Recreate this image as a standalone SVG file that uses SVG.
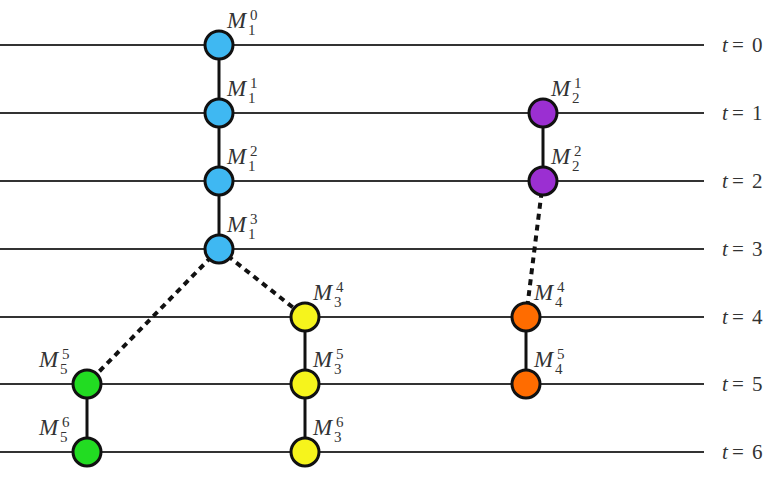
<svg xmlns="http://www.w3.org/2000/svg" width="778" height="477" viewBox="0 0 778 477">
<style>
.tl{stroke:#333;stroke-width:2}
.sol{stroke:#111;stroke-width:3}
.dash{stroke:#111;stroke-width:4;stroke-dasharray:6 5}
.n{stroke:#111;stroke-width:3}
.c{fill:#3fb8f2}.p{fill:#9b2fd2}.y{fill:#f6f41c}.g{fill:#22dc22}.o{fill:#ff6c00}
text{font-family:"Liberation Serif","DejaVu Serif",serif;fill:#333}
.m{font-size:23px;font-style:italic}
.s{font-size:15px}
.t{font-size:21px}
.i{font-style:italic}
</style>
<rect width="778" height="477" fill="#fff"/>
<g id="timelines">
<line class="tl" x1="0" y1="45" x2="704" y2="45"/>
<line class="tl" x1="0" y1="113" x2="704" y2="113"/>
<line class="tl" x1="0" y1="181" x2="704" y2="181"/>
<line class="tl" x1="0" y1="249" x2="704" y2="249"/>
<line class="tl" x1="0" y1="317" x2="704" y2="317"/>
<line class="tl" x1="0" y1="384" x2="704" y2="384"/>
<line class="tl" x1="0" y1="452" x2="704" y2="452"/>
<text class="t" y="52"><tspan class="i" x="722">t</tspan><tspan x="732">=</tspan><tspan x="752">0</tspan></text>
<text class="t" y="120"><tspan class="i" x="722">t</tspan><tspan x="732">=</tspan><tspan x="752">1</tspan></text>
<text class="t" y="188"><tspan class="i" x="722">t</tspan><tspan x="732">=</tspan><tspan x="752">2</tspan></text>
<text class="t" y="256"><tspan class="i" x="722">t</tspan><tspan x="732">=</tspan><tspan x="752">3</tspan></text>
<text class="t" y="324"><tspan class="i" x="722">t</tspan><tspan x="732">=</tspan><tspan x="752">4</tspan></text>
<text class="t" y="391"><tspan class="i" x="722">t</tspan><tspan x="732">=</tspan><tspan x="752">5</tspan></text>
<text class="t" y="459"><tspan class="i" x="722">t</tspan><tspan x="732">=</tspan><tspan x="752">6</tspan></text>
</g>
<g id="connectors">
<line class="sol" x1="219" y1="45" x2="219" y2="249"/>
<line class="sol" x1="543" y1="113" x2="543" y2="181"/>
<line class="sol" x1="305" y1="317" x2="305" y2="452"/>
<line class="sol" x1="87" y1="384" x2="87" y2="452"/>
<line class="sol" x1="526" y1="317" x2="526" y2="384"/>
<line class="dash" x1="219" y1="249" x2="87" y2="384"/>
<line class="dash" x1="219" y1="249" x2="305" y2="317"/>
<line class="dash" x1="543" y1="181" x2="526" y2="317"/>
</g>
<g id="M1_0"><circle class="n c" cx="219" cy="45" r="14"/><text class="m" x="227" y="28">M</text><text class="s" x="250" y="20">0</text><text class="s" x="248" y="35">1</text></g>
<g id="M1_1"><circle class="n c" cx="219" cy="113" r="14"/><text class="m" x="227" y="96">M</text><text class="s" x="250" y="88">1</text><text class="s" x="248" y="103">1</text></g>
<g id="M1_2"><circle class="n c" cx="219" cy="181" r="14"/><text class="m" x="227" y="164">M</text><text class="s" x="250" y="156">2</text><text class="s" x="248" y="171">1</text></g>
<g id="M1_3"><circle class="n c" cx="219" cy="249" r="14"/><text class="m" x="227" y="232">M</text><text class="s" x="250" y="224">3</text><text class="s" x="248" y="239">1</text></g>
<g id="M2_1"><circle class="n p" cx="543" cy="113" r="14"/><text class="m" x="551" y="96">M</text><text class="s" x="574" y="88">1</text><text class="s" x="572" y="103">2</text></g>
<g id="M2_2"><circle class="n p" cx="543" cy="181" r="14"/><text class="m" x="551" y="164">M</text><text class="s" x="574" y="156">2</text><text class="s" x="572" y="171">2</text></g>
<g id="M3_4"><circle class="n y" cx="305" cy="317" r="14"/><text class="m" x="313" y="300">M</text><text class="s" x="336" y="292">4</text><text class="s" x="334" y="307">3</text></g>
<g id="M3_5"><circle class="n y" cx="305" cy="384" r="14"/><text class="m" x="313" y="367">M</text><text class="s" x="336" y="359">5</text><text class="s" x="334" y="374">3</text></g>
<g id="M3_6"><circle class="n y" cx="305" cy="452" r="14"/><text class="m" x="313" y="435">M</text><text class="s" x="336" y="427">6</text><text class="s" x="334" y="442">3</text></g>
<g id="M4_4"><circle class="n o" cx="526" cy="317" r="14"/><text class="m" x="534" y="300">M</text><text class="s" x="557" y="292">4</text><text class="s" x="555" y="307">4</text></g>
<g id="M4_5"><circle class="n o" cx="526" cy="384" r="14"/><text class="m" x="534" y="367">M</text><text class="s" x="557" y="359">5</text><text class="s" x="555" y="374">4</text></g>
<g id="M5_5"><circle class="n g" cx="87" cy="384" r="14"/><text class="m" x="39" y="367">M</text><text class="s" x="62" y="359">5</text><text class="s" x="60" y="374">5</text></g>
<g id="M5_6"><circle class="n g" cx="87" cy="452" r="14"/><text class="m" x="39" y="435">M</text><text class="s" x="62" y="427">6</text><text class="s" x="60" y="442">5</text></g>
</svg>
